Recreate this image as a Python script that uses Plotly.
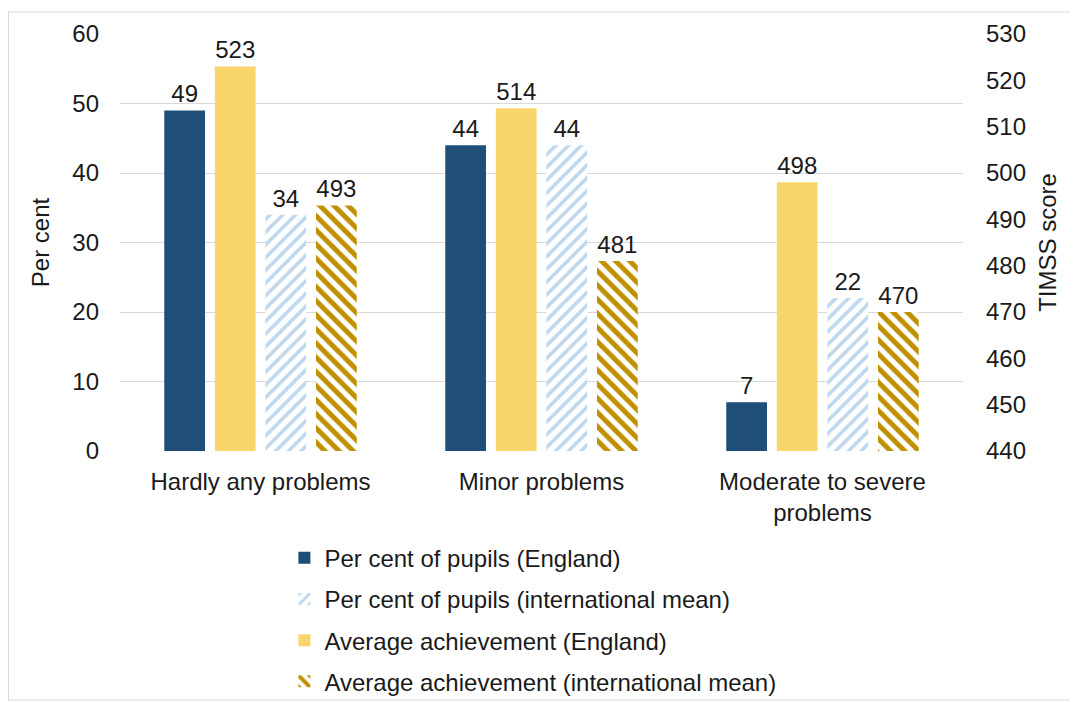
import plotly.graph_objects as go

categories = ["Hardly any problems", "Minor problems", "Moderate to severe<br>problems"]
pct_england = [49, 44, 7]
pct_intl = [34, 44, 22]
score_england = [523, 514, 498]
score_intl = [493, 481, 470]

left_ticks = [0, 10, 20, 30, 40, 50, 60]
right_ticks = [440, 450, 460, 470, 480, 490, 500, 510, 520, 530]

FONT = "Liberation Sans, Arial, sans-serif"
FS = 24
W = 0.145

fig = go.Figure()

fig.add_trace(go.Bar(
    x=categories, y=pct_england, name="Per cent of pupils (England)",
    marker=dict(color="#1F4E79", line=dict(width=0)),
    width=W, offset=-0.3425, yaxis="y",
    text=pct_england, textposition="outside",
    textfont=dict(size=FS, color="#1a1a1a", family=FONT),
    legendrank=1, legendgroup="a", cliponaxis=False,
))
fig.add_trace(go.Bar(
    x=categories, y=score_england, name="Average achievement (England)",
    marker=dict(color="#F9D66C", line=dict(width=0)),
    width=W, offset=-0.1625, yaxis="y2",
    text=score_england, textposition="outside",
    textfont=dict(size=FS, color="#1a1a1a", family=FONT),
    legendrank=3, legendgroup="c",
))
fig.add_trace(go.Bar(
    x=categories, y=pct_intl, name="Per cent of pupils (international mean)",
    marker=dict(color="white", line=dict(width=0),
                pattern=dict(shape="/", fgcolor="#BDD7EE", bgcolor="white",
                             size=9, solidity=0.4, fillmode="replace")),
    width=W, offset=0.0175, yaxis="y",
    text=pct_intl, textposition="outside",
    textfont=dict(size=FS, color="#1a1a1a", family=FONT),
    legendrank=2, legendgroup="b", cliponaxis=False,
))
fig.add_trace(go.Bar(
    x=categories, y=score_intl, name="Average achievement (international mean)",
    marker=dict(color="white", line=dict(width=0),
                pattern=dict(shape="\\", fgcolor="#BF9000", bgcolor="white",
                             size=10, solidity=0.5, fillmode="replace")),
    width=W, offset=0.1975, yaxis="y2",
    text=score_intl, textposition="outside",
    textfont=dict(size=FS, color="#1a1a1a", family=FONT),
    legendrank=4, legendgroup="d",
))

# figure is drawn at an 8px page offset
L, T, R, B = 112, 26, 955, 443
fig.update_layout(
    width=1070, height=694,
    margin=dict(l=L, r=1070 - R, t=T, b=694 - B, autoexpand=False),
    paper_bgcolor="white", plot_bgcolor="white",
    font=dict(family=FONT, size=FS, color="#1a1a1a"),
    barmode="overlay",
    showlegend=True,
    legend=dict(
        x=0.195, y=-0.203, xanchor="left", yanchor="top",
        orientation="v", traceorder="grouped", tracegroupgap=7,
        font=dict(size=FS, family=FONT, color="#1a1a1a"),
        bgcolor="rgba(0,0,0,0)",
    ),
    xaxis=dict(
        tickfont=dict(size=FS), showgrid=False, showline=False, ticks="",
        range=[-0.5, 2.5], ticklabelstandoff=14,
    ),
    yaxis=dict(
        range=[0, 60], tickvals=left_ticks, showgrid=True, gridcolor="#D9D9D9",
        gridwidth=1, zeroline=False, showline=False, ticks="",
        ticklabelstandoff=20, tickfont=dict(size=FS),
        title=dict(text="Per cent", font=dict(size=FS), standoff=15),
    ),
    yaxis2=dict(
        range=[440, 530], tickvals=right_ticks, overlaying="y", side="right",
        showgrid=False, zeroline=False, showline=False, ticks="",
        ticklabelstandoff=22, tickfont=dict(size=FS),
        title=dict(text="TIMSS score", font=dict(size=FS), standoff=14),
    ),
    shapes=[dict(
        type="rect", xref="paper", yref="paper",
        x0=(0.5 - L) / (R - L), x1=(1069.5 - L) / (R - L),
        y0=(B - 692) / (B - T), y1=1 + (T - 4) / (B - T),
        line=dict(color="#D9D9D9", width=1), fillcolor="rgba(0,0,0,0)",
        layer="below",
    )],
)

fig.write_html("out.html")
